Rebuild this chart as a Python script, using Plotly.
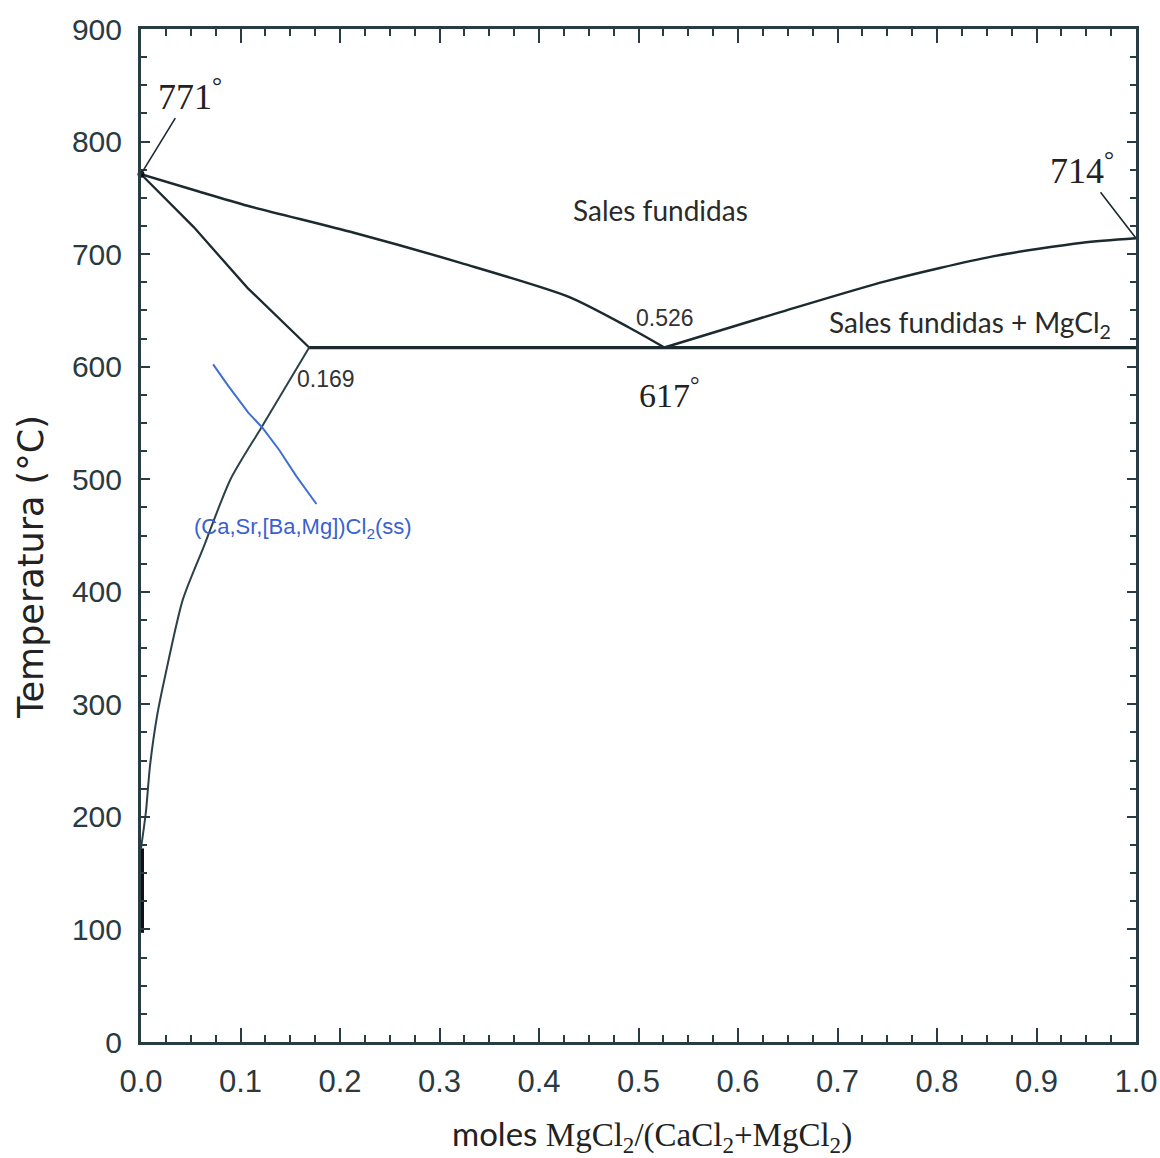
import plotly.graph_objects as go

# Phase boundaries of the CaCl2-MgCl2 system (x = mole fraction MgCl2, T in °C)
liq_left_x = [0.0, 0.053, 0.107, 0.214, 0.322, 0.430, 0.490, 0.526]
liq_left_t = [771, 757, 743, 719, 692, 662, 635, 617]

liq_right_x = [0.526, 0.641, 0.749, 0.856, 0.946, 1.0]
liq_right_t = [617, 648, 676, 698, 710, 714]

solidus_x = [0.0, 0.053, 0.107, 0.169]
solidus_t = [771, 724, 670, 617]

solvus_x = [0.169, 0.121, 0.090, 0.063, 0.042, 0.024, 0.016, 0.009, 0.005, 0.0]
solvus_t = [617, 546, 500, 440, 393, 324, 289, 245, 205, 172]

eutectic_x = [0.169, 1.0]
eutectic_t = [617, 617]

wall_x = [0.0, 0.0]
wall_t = [97, 172]

ss_pointer_x = [0.0725, 0.0877, 0.108, 0.1218, 0.1389, 0.1559, 0.1763]
ss_pointer_t = [602, 583, 559, 546, 526, 503, 478]

x_ticks = [0.0, 0.1, 0.2, 0.3, 0.4, 0.5, 0.6, 0.7, 0.8, 0.9, 1.0]
x_tick_text = ["0.0", "0.1", "0.2", "0.3", "0.4", "0.5", "0.6", "0.7", "0.8", "0.9", "1.0"]
y_ticks = [0, 100, 200, 300, 400, 500, 600, 700, 800, 900]

LINE = "#1c2a2f"
AXIS = "#2a3c43"
SANS = "Liberation Sans, Arial, sans-serif"
SERIF = "Liberation Serif, Times New Roman, serif"
HUMANIST = "Lato, Open Sans, sans-serif"

fig = go.Figure()


def boundary(x, t, width=2.5, color=LINE, shape="linear"):
    fig.add_trace(go.Scatter(x=x, y=t, mode="lines",
                             line=dict(color=color, width=width, shape=shape, smoothing=0.7),
                             hoverinfo="skip", showlegend=False))


boundary(liq_left_x, liq_left_t, shape="spline")
boundary(liq_right_x, liq_right_t, shape="spline")
boundary(solidus_x, solidus_t, 2.3)
boundary(solvus_x, solvus_t, 2.0, "#2b4148", shape="spline")
boundary(eutectic_x, eutectic_t, 3.2)
boundary(wall_x, wall_t, 6.0, "#111111")
boundary(ss_pointer_x, ss_pointer_t, 2.0, "#3f6fd0")

# melting point of pure CaCl2
fig.add_trace(go.Scatter(x=[liq_left_x[0]], y=[liq_left_t[0]], mode="markers",
                         marker=dict(color="#111111", size=7),
                         hoverinfo="skip", showlegend=False, cliponaxis=False))

annotations = [
    dict(x=0.0, y=771, ax=49, ay=-80, text="771<sup>°</sup>",
         font=dict(family=SERIF, size=36, color="#222222"),
         showarrow=True, arrowhead=0, arrowwidth=1.6, arrowcolor=LINE),
    dict(x=1.0, y=714, ax=-54, ay=-70, text="714<sup>°</sup>",
         font=dict(family=SERIF, size=36, color="#222222"),
         showarrow=True, arrowhead=0, arrowwidth=1.6, arrowcolor=LINE),
    dict(x=0.527, y=577, text="617<sup>°</sup>", xshift=4,
         font=dict(family=SERIF, size=34, color="#222222"), showarrow=False),
    dict(x=0.5266, y=643, text="0.526",
         font=dict(family=SANS, size=23, color="#333333"), showarrow=False),
    dict(x=0.186, y=589, text="0.169",
         font=dict(family=SANS, size=23, color="#333333"), showarrow=False),
    dict(x=0.5226, y=739, text="Sales fundidas",
         font=dict(family=HUMANIST, size=28, color="#2a2a2a"), showarrow=False),
    dict(x=0.833, y=638, text="Sales fundidas + MgCl<sub>2</sub>",
         font=dict(family=HUMANIST, size=28, color="#2a2a2a"), showarrow=False),
    dict(x=0.1628, y=457, text="(Ca,Sr,[Ba,Mg])Cl<sub>2</sub>(ss)",
         font=dict(family=SANS, size=22, color="#3b5fd0"), showarrow=False),
    # axis titles
    dict(xref="paper", yref="paper", x=0, y=0.469, xshift=-110, textangle=-90,
         xanchor="center", yanchor="middle",
         text="Temperatura (°C)", showarrow=False,
         font=dict(family="DejaVu Sans, sans-serif", size=35, color="#222222")),
    dict(xref="paper", yref="paper", x=0.5136, y=0, yshift=-93,
         xanchor="center", yanchor="middle",
         text=("moles <span style='font-family:Liberation Serif'>MgCl<sub>2</sub>/"
               "(CaCl<sub>2</sub>+MgCl<sub>2</sub>)</span>"),
         showarrow=False,
         font=dict(family=HUMANIST, size=33, color="#222222")),
]

fig.update_layout(
    width=1160, height=1158,
    margin=dict(l=141, r=24, t=29, b=116),
    paper_bgcolor="white", plot_bgcolor="white",
    showlegend=False,
    annotations=annotations,
)

fig.update_xaxes(
    range=[0, 1], tickvals=x_ticks, ticktext=x_tick_text, automargin=False,
    showgrid=False, zeroline=False,
    showline=True, linecolor=AXIS, linewidth=3, mirror="allticks",
    ticks="inside", ticklen=14, tickwidth=2, tickcolor=AXIS,
    minor=dict(dtick=0.025, ticks="inside", ticklen=7, tickwidth=2, tickcolor=AXIS, showgrid=False),
    tickfont=dict(family=SANS, size=31, color="#2a3a40"),
    ticklabelstandoff=10, ticklabeloverflow="allow",
)
fig.update_yaxes(
    range=[0, 900], tickvals=y_ticks, automargin=False,
    showgrid=False, zeroline=False,
    showline=True, linecolor=AXIS, linewidth=3, mirror="allticks",
    ticks="inside", ticklen=9, tickwidth=2, tickcolor=AXIS,
    minor=dict(dtick=25, ticks="inside", ticklen=6, tickwidth=2, tickcolor=AXIS, showgrid=False),
    tickfont=dict(family=SANS, size=30, color="#2a3a40"),
    ticklabelstandoff=10, ticklabeloverflow="allow",
)

fig.write_html("out.html")
